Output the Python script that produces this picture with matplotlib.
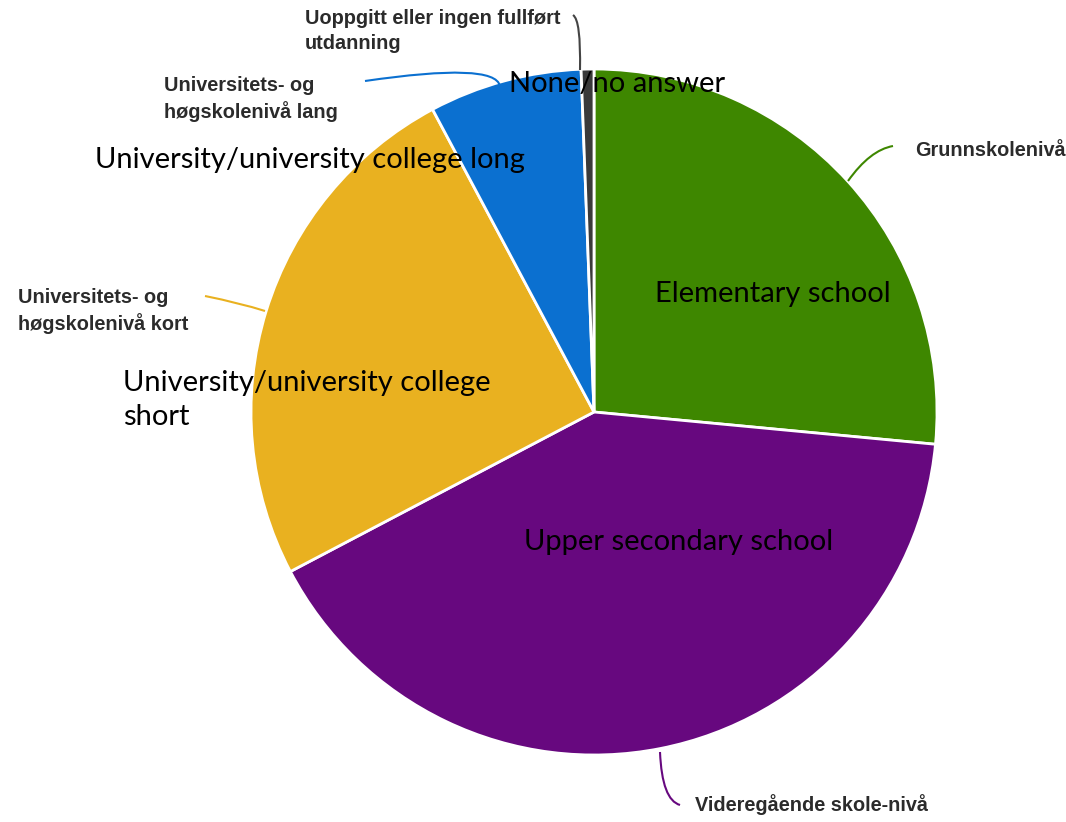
import numpy as np
import matplotlib
matplotlib.use("Agg")
import matplotlib.pyplot as plt
from matplotlib.path import Path
from matplotlib.patches import PathPatch

# === data: share of each education level (%) ===
levels_no = ["Grunnskolenivå", "Videregående skole-nivå",
             "Universitets- og\nhøgskolenivå kort", "Universitets- og\nhøgskolenivå lang",
             "Uoppgitt eller ingen fullført\nutdanning"]
levels_en = ["Elementary school", "Upper secondary school",
             "University/university college\nshort", "University/university college long",
             "None/no answer"]
shares = [26.5, 40.8, 24.9, 7.2, 0.6]
colors = ["#3E8700", "#67087F", "#E9B120", "#0B70D0", "#3A3A3A"]

W, H = 1066, 822

def py(y):
    # pixel rows counted from the top
    return H - y

fig = plt.figure(figsize=(W / 100, H / 100), dpi=100)
ax = fig.add_axes([0, 0, 1, 1])

ax.pie(shares, colors=colors, startangle=90, counterclock=False,
       center=(594, py(412)), radius=343,
       wedgeprops=dict(edgecolor="white", linewidth=2))

# pie() resets the view, so fix the pixel frame afterwards
ax.set_xlim(0, W)
ax.set_ylim(0, H)
ax.set_aspect("equal")
ax.axis("off")

# leader lines (quadratic curves) from the slices to the Norwegian labels
leaders = [
    ((848, 181), (870, 150), (893, 146), colors[0]),
    ((660, 752), (662, 800), (680, 805), colors[1]),
    ((205, 296), (240, 303), (265, 311), colors[2]),
    ((365, 81), (495, 62), (500, 86), colors[3]),
    ((573, 15), (581, 20), (580, 70), "#444444"),
]
for p0, c, p1, col in leaders:
    path = Path([(p0[0], py(p0[1])), (c[0], py(c[1])), (p1[0], py(p1[1]))],
                [Path.MOVETO, Path.CURVE3, Path.CURVE3])
    ax.add_patch(PathPatch(path, fc="none", ec=col, lw=1.5))

no_style = dict(family=["Liberation Sans", "DejaVu Sans"], fontweight="bold",
                fontsize=14.3, color="#2b2b2b", linespacing=1.4)
ax.text(915, py(150), levels_no[0], ha="left", va="center", **no_style)
ax.text(695, py(805), levels_no[1], ha="left", va="center", **no_style)
ax.text(18, py(311), levels_no[2], ha="left", va="center", **no_style)
ax.text(164, py(99), levels_no[3], ha="left", va="center", **no_style)
ax.text(305, py(31), levels_no[4], ha="left", va="center", **no_style)

en_style = dict(family=["Lato", "DejaVu Sans"], fontsize=21, color="black",
                linespacing=1.35)
ax.text(509, py(84), levels_en[4], ha="left", va="center", **en_style)
ax.text(95, py(160), levels_en[3], ha="left", va="center", **en_style)
ax.text(655, py(294), levels_en[0], ha="left", va="center", **en_style)
ax.text(123, py(400), levels_en[2], ha="left", va="center", **en_style)
ax.text(524, py(542), levels_en[1], ha="left", va="center", **en_style)

fig.savefig("out.png", dpi=100, facecolor="white")
